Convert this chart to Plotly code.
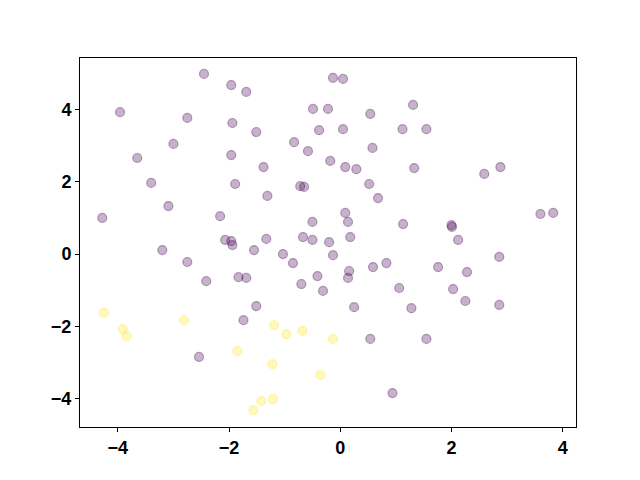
import plotly.graph_objects as go

# cluster 0 (purple)
x_class0 = [-2.45, -1.96, -1.69, -3.96, -2.75, -1.94, -3.00, -3.65, -1.96, -3.40,
            -1.89, -3.09, -4.28, -2.16, -2.07, -1.96, -1.94, -3.20, -0.13, 0.05,
            -0.49, -0.22, 0.54, 1.31, -1.51, -0.38, 0.05, 1.12, -0.83, -0.58,
            0.58, -0.18, -1.38, 0.09, 0.29, 1.33, -0.72, -0.65, 0.52, -1.31,
            0.68, 0.09, 0.14, -0.50, 1.13, -1.33, -0.67, -0.50, -0.20, 0.18,
            1.55, 2.59, 2.88, 3.60, 3.83, 2.00, 2.01, 2.12, -2.75, -2.41,
            -1.83, -1.69, -1.74, -2.54, -1.55, -1.03, -0.85, -0.13, 0.16, 0.14,
            0.59, 0.83, -0.70, -0.41, -0.31, 1.06, -1.51, 0.25, 1.28, 0.54,
            0.94, 2.86, 1.76, 2.28, 2.03, 2.25, 2.86, 1.55]
y_class0 = [4.99, 4.68, 4.49, 3.93, 3.77, 3.63, 3.05, 2.66, 2.74, 1.97,
            1.94, 1.33, 1.00, 1.05, 0.39, 0.36, 0.25, 0.11, 4.88, 4.85,
            4.02, 4.02, 3.88, 4.13, 3.38, 3.43, 3.46, 3.46, 3.10, 2.85,
            2.94, 2.58, 2.41, 2.41, 2.35, 2.38, 1.88, 1.86, 1.94, 1.61,
            1.55, 1.14, 0.89, 0.89, 0.83, 0.42, 0.47, 0.39, 0.33, 0.47,
            3.46, 2.22, 2.41, 1.11, 1.14, 0.80, 0.75, 0.39, -0.22, -0.75,
            -0.64, -0.66, -1.83, -2.85, 0.11, 0.00, -0.25, -0.03, -0.47, -0.66,
            -0.36, -0.25, -0.83, -0.61, -1.02, -0.94, -1.44, -1.47, -1.50, -2.35,
            -3.85, -0.08, -0.36, -0.50, -0.97, -1.30, -1.41, -2.35]

# cluster 1 (yellow)
x_class1 = [-4.25, -3.91, -3.84, -2.81, -1.85, -1.19, -0.97, -0.68, -0.13, -1.22,
            -0.36, -1.21, -1.42, -1.56]
y_class1 = [-1.63, -2.08, -2.27, -1.83, -2.69, -1.97, -2.22, -2.13, -2.35, -3.05,
            -3.35, -4.02, -4.07, -4.32]

ticks = [-4, -2, 0, 2, 4]

fig = go.Figure()

fig.add_trace(go.Scatter(
    x=x_class0, y=y_class0, mode='markers',
    marker=dict(size=9, color='rgba(68,1,84,0.3)',
                line=dict(color='rgba(68,1,84,0.35)', width=1.2))
))
fig.add_trace(go.Scatter(
    x=x_class1, y=y_class1, mode='markers',
    marker=dict(size=9, color='rgba(253,231,37,0.3)',
                line=dict(color='rgba(253,231,37,0.35)', width=1.2))
))

axis_style = dict(
    showgrid=False, zeroline=False, showline=True, linecolor='black',
    linewidth=1, mirror=True, ticks='outside', ticklen=4, tickwidth=1,
    tickcolor='black', tickvals=ticks,
    tickfont=dict(family='Liberation Sans', size=18, color='black', weight='bold'),
)

# page body adds an 8px offset, so margins are shifted to compensate
fig.update_layout(
    width=640, height=480,
    margin=dict(l=72, r=72, t=50, b=61),
    plot_bgcolor='white', paper_bgcolor='white',
    showlegend=False,
    xaxis=dict(range=[-4.68, 4.24], **axis_style),
    yaxis=dict(range=[-4.79, 5.43], **axis_style),
)

fig.write_html("out.html")
